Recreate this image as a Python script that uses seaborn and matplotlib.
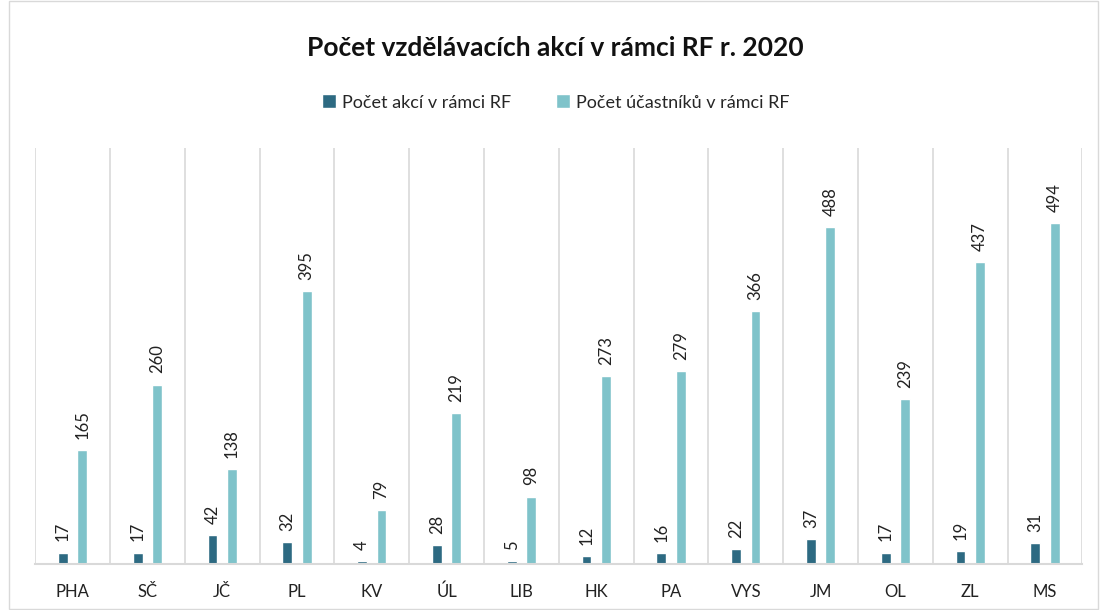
#!/usr/bin/env python3

import matplotlib.pyplot as plt
from matplotlib.patches import Rectangle
import seaborn as sns
import pandas as pd

regions = ['PHA', 'SČ', 'JČ', 'PL', 'KV', 'ÚL', 'LIB', 'HK', 'PA', 'VYS', 'JM', 'OL', 'ZL', 'MS']
events = [17, 17, 42, 32, 4, 28, 5, 12, 16, 22, 37, 17, 19, 31]
participants = [165, 260, 138, 395, 79, 219, 98, 273, 279, 366, 488, 239, 437, 494]
series = ['Počet akcí v rámci RF', 'Počet účastníků v rámci RF']
colors = ['#2D6A82', '#7FC3CA']

sns.set_theme(style='white')
plt.rcParams['font.family'] = ['Lato', 'DejaVu Sans']

df = pd.DataFrame({
    'kraj': regions * 2,
    'hodnota': events + participants,
    'rada': [series[0]] * len(regions) + [series[1]] * len(regions),
})

fig = plt.figure(figsize=(11, 6.1), dpi=100)
ax = fig.add_axes([0.032, 0.075, 0.952, 0.683])

sns.barplot(data=df, x='kraj', y='hodnota', hue='rada', palette=colors,
            width=0.52, gap=0.5, ax=ax, legend=True, saturation=1)

for cont in ax.containers:
    ax.bar_label(cont, rotation=90, padding=8, fontsize=12, color='#222222')

ax.set_xlim(-0.5, len(regions) - 0.5)
ax.set_ylim(0, 603)
ax.set_yticks([])
ax.set_xlabel('')
ax.set_ylabel('')
ax.tick_params(axis='x', length=0, pad=14, labelsize=12, colors='#222222')

# separators between categories
for i in range(len(regions) + 1):
    ax.axvline(i - 0.5, color='#D9D9D9', lw=1.2, zorder=0)
for s in ['top', 'right', 'left']:
    ax.spines[s].set_visible(False)
ax.spines['bottom'].set_color('#D9D9D9')
ax.spines['bottom'].set_linewidth(1.5)

handles, labels = ax.get_legend_handles_labels()
ax.legend(handles, labels, loc='center', bbox_to_anchor=(0.505, 0.832),
          bbox_transform=fig.transFigure, ncol=2, frameon=False,
          fontsize=13, handlelength=0.8, handleheight=0.8,
          handletextpad=0.3, columnspacing=2.5)

fig.text(0.505, 0.922, 'Počet vzdělávacích akcí v rámci RF r. 2020',
         ha='center', va='center', fontsize=19, fontweight='bold', color='#111111')

fig.patches.append(Rectangle((0.008, 0.002), 0.99, 0.996, transform=fig.transFigure,
                             fill=False, edgecolor='#D9D9D9', lw=1))

plt.savefig('out.png', dpi=100)
